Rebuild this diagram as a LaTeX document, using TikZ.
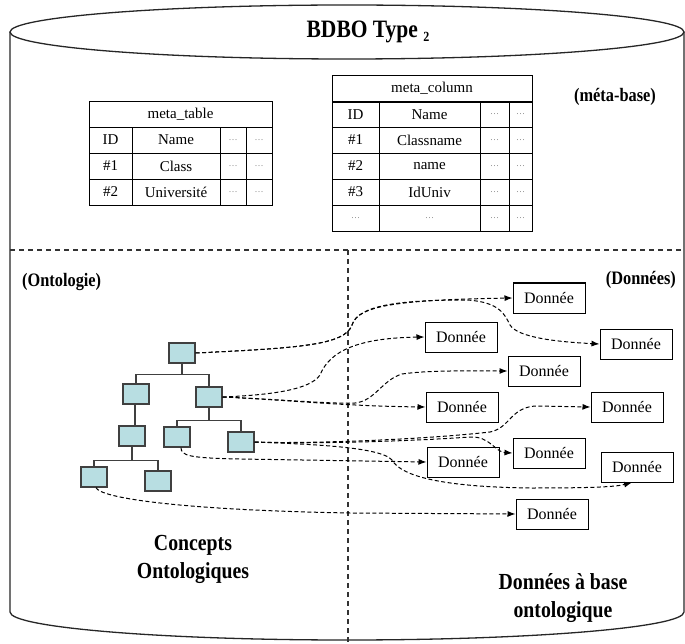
\documentclass[tikz,border=0pt]{standalone}
\usepackage{fontspec}
\setmainfont{Liberation Serif}
\newfontfamily\tallserif[FakeStretch=0.86]{Liberation Serif}
\usetikzlibrary{arrows.meta}
\definecolor{conceptblue}{RGB}{184,222,226}
\tikzset{
 cyl/.style={line width=1.3pt, draw=black!85},
 sepline/.style={dash pattern=on 5pt off 4pt, line width=1.1pt, draw=black!80},
 cell/.style={draw, line width=0.9pt, inner sep=0pt, font=\fontsize{15}{17}\selectfont},
 dotcell/.style={cell, font=\fontsize{9}{10}\selectfont, text=gray},
 concept/.style={draw=black!75, fill=conceptblue, line width=1.2pt, minimum width=26pt, minimum height=20pt, inner sep=0pt},
 tline/.style={draw=black!75, line width=1.1pt},
 donnee/.style={draw, fill=white, line width=1pt, minimum width=72pt, minimum height=30pt, inner sep=0pt, font=\fontsize{16}{18}\selectfont},
 link/.style={dash pattern=on 4pt off 2.5pt, line width=1pt, -{Latex[length=8pt,width=6pt]}},
 heading/.style={font=\tallserif\bfseries\fontsize{19}{22}\selectfont, inner sep=0pt},
 biglabel/.style={font=\tallserif\bfseries\fontsize{23}{28}\selectfont, align=center},
}
\begin{document}
\begin{tikzpicture}[x=1pt,y=-1pt]
\useasboundingbox (0,0) rectangle (685,644);
% cylinder
\draw[cyl] (10,32) -- (10,612) arc[start angle=180, end angle=360, x radius=337pt, y radius=28pt] -- (684,32);
\draw[cyl, fill=white] (347,32) ellipse [x radius=337pt, y radius=27pt];
\node[font=\tallserif\bfseries\fontsize{25}{28}\selectfont] (title) at (368,32) {BDBO Type \raisebox{-0.35ex}{\fontsize{14}{14}\selectfont 2}};
\node[heading] (metabase) at (615,97) {(méta-base)};
% separators
\draw[sepline] (10,250) -- (684,250);
\draw[sepline] (348,250) -- (348,644);
\node[heading, anchor=west] (onto) at (22,282) {(Ontologie)};
\node[heading, anchor=east] (donnees) at (676,280) {(Données)};
% meta_table
\node[cell, minimum width=183pt, minimum height=26pt] (mth) at (180.5,114) {meta\_table};
\foreach \y/\a/\b [count=\r] in {140/ID/Name, 166/\#1/Class, 192/\#2/Université} {
  \node[cell, minimum width=43pt, minimum height=26pt] (mt\r a) at (110.5,\y) {\a};
  \node[cell, minimum width=88pt, minimum height=26pt] (mt\r b) at (176,\y) {\b};
  \node[dotcell, minimum width=26pt, minimum height=26pt] (mt\r c) at (233,\y) {…};
  \node[dotcell, minimum width=26pt, minimum height=26pt] (mt\r d) at (259,\y) {…};
}
% meta_column
\node[cell, minimum width=200pt, minimum height=27pt] (mch) at (432,88.5) {meta\_column};
\foreach \y/\a/\b [count=\r] in {114.5/ID/Name, 140/\#1/Classname, 166/\#2/name, 192/\#3/IdUniv} {
  \node[cell, minimum width=47pt, minimum height=26pt] (mc\r a) at (355.5,\y) {\a};
  \node[cell, minimum width=101pt, minimum height=26pt] (mc\r b) at (429.5,\y) {\b};
  \node[dotcell, minimum width=29pt, minimum height=26pt] (mc\r c) at (494.5,\y) {…};
  \node[dotcell, minimum width=23pt, minimum height=26pt] (mc\r d) at (520.5,\y) {…};
}
\node[dotcell, minimum width=47pt, minimum height=26pt] (mc5a) at (355.5,218) {…};
\node[dotcell, minimum width=101pt, minimum height=26pt] (mc5b) at (429.5,218) {…};
\node[dotcell, minimum width=29pt, minimum height=26pt] (mc5c) at (494.5,218) {…};
\node[dotcell, minimum width=23pt, minimum height=26pt] (mc5d) at (520.5,218) {…};
% ontology tree
\node[concept] (root) at (182,353) {};
\node[concept] (L1) at (136,394) {};
\node[concept] (R1) at (209,397) {};
\node[concept] (L2) at (132,436) {};
\node[concept] (RL) at (177,437) {};
\node[concept] (RR) at (241,442) {};
\node[concept] (LL) at (94,477) {};
\node[concept] (LR) at (158,481) {};
\draw[tline] (root.south) -- ++(0,11) -| (L1.north);
\draw[tline] (root.south) -- ++(0,11) -| (R1.north);
\draw[tline] ([xshift=-1pt]L1.south) -- ([xshift=-1pt]L1.south |- L2.north);
\draw[tline] (R1.south) -- ++(0,13) -| (RL.north);
\draw[tline] (R1.south) -- ++(0,13) -| (RR.north);
\draw[tline] (L2.south) -- ++(0,14) -| (LL.north);
\draw[tline] (L2.south) -- ++(0,14) -| (LR.north);
% data boxes
\node[donnee] (D1) at (549,298) {Donnée};
\node[donnee] (D2) at (461,337) {Donnée};
\node[donnee] (D3) at (636,344) {Donnée};
\node[donnee] (D4) at (544,371) {Donnée};
\node[donnee] (D5) at (462,407) {Donnée};
\node[donnee] (D6) at (627,407) {Donnée};
\node[donnee] (D7) at (549,453) {Donnée};
\node[donnee] (D8) at (463,462) {Donnée};
\node[donnee] (D9) at (637,467) {Donnée};
\node[donnee] (D10) at (552,514) {Donnée};
% links
\draw[link] (root.east) .. controls (300,348) and (345,345) .. (352,325) .. controls (358,305) and (400,300) .. (D1.west);
\draw[link] (root.east) .. controls (300,348) and (345,345) .. (352,325) .. controls (358,305) and (400,300) .. (467,300) .. controls (500,302) and (505,315) .. (510,325) .. controls (518,338) and (560,342) .. (D3.west);
\draw[link] (R1.east) .. controls (270,395) and (310,390) .. (320,375) .. controls (330,350) and (360,338) .. (D2.west);
\draw[link] (R1.east) .. controls (290,400) and (340,406) .. (D5.west);
\draw[link] (R1.east) .. controls (290,400) and (330,404) .. (355,403) .. controls (375,401) and (382,380) .. (402,374) .. controls (430,370) and (470,371) .. (D4.west);
\draw[link] (RR.east) .. controls (300,444) and (420,440) .. (490,432) .. controls (510,428) and (510,408) .. (535,406) -- (D6.west);
\draw[link] (RR.east) .. controls (300,444) and (400,442) .. (470,437) .. controls (490,436) and (495,452) .. (D7.west);
\draw[link] (RR.east) .. controls (300,444) and (380,446) .. (392,460) .. controls (402,478) and (450,487) .. (530,488) .. controls (590,488) and (615,487) .. ([xshift=-5pt]D9.south);
\draw[link] ([xshift=4pt]RL.south) .. controls (181,456) and (190,458) .. (240,459) -- (D8.west);
\draw[link] ([xshift=2pt]LL.south) .. controls (100,498) and (180,510) .. (350,513) -- (D10.west);
% bottom labels
\node[biglabel] (concepts) at (193,559) {Concepts\\Ontologiques};
\node[biglabel] (basedonnees) at (563,598) {Données à base\\ontologique};
\end{tikzpicture}
\end{document}
